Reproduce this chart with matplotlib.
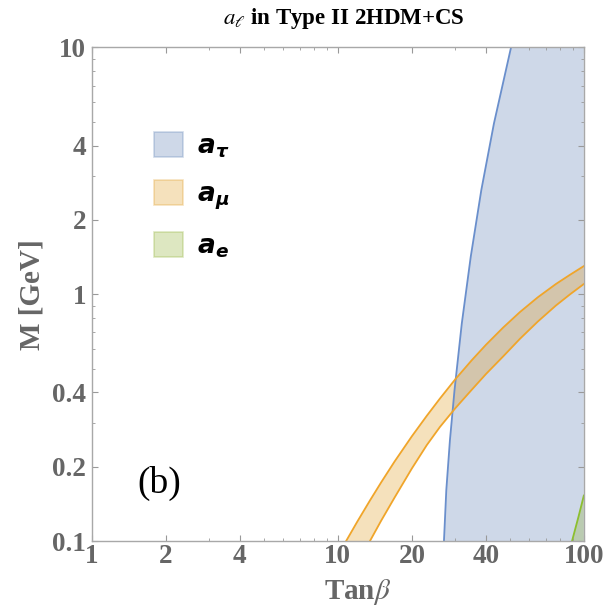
import numpy as np
import matplotlib
matplotlib.use("Agg")
import matplotlib.pyplot as plt
from matplotlib.patches import Patch
from matplotlib.font_manager import FontProperties

# region boundaries (tan beta, M in GeV)
tau_M = [0.1, 0.161, 0.256, 0.408, 0.760, 1.42, 2.64, 4.91, 10.0]
tau_tb = [27.0, 27.6, 28.55, 29.8, 31.9, 34.7, 38.3, 43.1, 50.6]

mu_hi_tb = [10.8, 12, 13.5, 15, 17, 20, 23, 26, 30, 35, 40, 47, 55, 65, 77, 88, 100]
mu_hi_M = [0.1, 0.120, 0.146, 0.173, 0.210, 0.266, 0.322, 0.378, 0.452, 0.540,
           0.624, 0.733, 0.847, 0.972, 1.10, 1.20, 1.30]
mu_lo_tb = [13.5, 15, 17, 20, 23, 26, 30, 35, 40, 47, 55, 65, 77, 88, 100]
mu_lo_M = [0.1, 0.121, 0.150, 0.197, 0.245, 0.290, 0.345, 0.410, 0.475, 0.560,
           0.660, 0.775, 0.900, 1.00, 1.10]

e_tb = [89.5, 95.0, 100.0, 100.0]
e_M = [0.1, 0.125, 0.153, 0.1]

xticks = [1, 2, 4, 10, 20, 40, 100]
yticks = [0.1, 0.2, 0.4, 1, 2, 4, 10]

blue, orange, green = "#5E81B5", "#E19C24", "#8FB032"
gray = "#666666"

fig = plt.figure(figsize=(6.12, 6.06), dpi=100)
ax = fig.add_axes([0.150, 0.107, 0.804, 0.815])
ax.set_xscale("log")
ax.set_yscale("log")

ax.fill_betweenx(tau_M, tau_tb, 100, facecolor=blue, alpha=0.3, lw=0)
ax.plot(tau_tb, tau_M, color="#6a8fcc", lw=1.3)

poly_tb = mu_hi_tb + mu_lo_tb[::-1]
poly_M = mu_hi_M + mu_lo_M[::-1]
ax.fill(poly_tb, poly_M, facecolor=orange, alpha=0.3, lw=0)
ax.plot(mu_hi_tb, mu_hi_M, color="#F0A52A", lw=1.3)
ax.plot(mu_lo_tb, mu_lo_M, color="#F0A52A", lw=1.3)

ax.fill(e_tb, e_M, facecolor=green, alpha=0.3, lw=0)
ax.plot(e_tb[:3], e_M[:3], color="#8cbf2f", lw=1.3)

ax.set_xlim(1, 100)
ax.set_ylim(0.1, 10)
ax.set_xticks(xticks)
ax.set_xticklabels([str(t) for t in xticks])
ax.set_yticks(yticks)
ax.set_yticklabels([str(t) for t in yticks])

tick_fp = FontProperties(family="Liberation Serif", weight="bold", size=19.5)
for lab in ax.get_xticklabels() + ax.get_yticklabels():
    lab.set_fontproperties(tick_fp)
    lab.set_color(gray)
ax.tick_params(which="both", direction="in", top=True, right=True, color="#999999")
ax.tick_params(which="major", length=4, width=0.8, pad=2)
ax.tick_params(axis="y", which="major", pad=4)
ax.tick_params(which="minor", length=2, width=0.6)
ax.yaxis.set_minor_formatter(matplotlib.ticker.NullFormatter())
ax.xaxis.set_minor_formatter(matplotlib.ticker.NullFormatter())
for s in ax.spines.values():
    s.set_color("#a8a8a8")
    s.set_linewidth(1.0)

lab_font = dict(family="Liberation Serif", weight="bold", size=21, color=gray)
ax.set_xlabel(r"Tan$\beta$", math_fontfamily="stix", **lab_font)
ax.xaxis.set_label_coords(0.54, -0.072)
ax.set_ylabel("M [GeV]", **lab_font)
ax.yaxis.set_label_coords(-0.095, 0.5)

fig.text(0.562, 0.970, r"$a_\ell$ in Type II 2HDM+CS", ha="center", va="center",
         family="Liberation Serif", weight="bold", size=16.5, color="black",
         math_fontfamily="stix")

ax.text(0.138, 0.116, "(b)", transform=ax.transAxes, ha="center", va="center",
        family="Liberation Serif", size=27, color="black")

handles = [Patch(facecolor=blue, alpha=0.3, edgecolor=blue),
           Patch(facecolor=orange, alpha=0.3, edgecolor=orange),
           Patch(facecolor=green, alpha=0.3, edgecolor=green)]
labels = [r"$\mathbfit{a}_{\mathbfit{\tau}}$", r"$\mathbfit{a}_{\mathbfit{\mu}}$",
          r"$\mathbfit{a}_{\mathbfit{e}}$"]
leg = ax.legend(handles, labels, loc="upper left", bbox_to_anchor=(0.126, 0.829),
                frameon=False, borderpad=0, borderaxespad=0,
                handlelength=1.1, handleheight=1.1,
                labelspacing=0.75, handletextpad=0.55, fontsize=19)
for h in leg.legend_handles:
    h.set_edgecolor(h.get_facecolor()[:3])
    h.set_linewidth(1.2)

fig.savefig("out.png", dpi=100)
